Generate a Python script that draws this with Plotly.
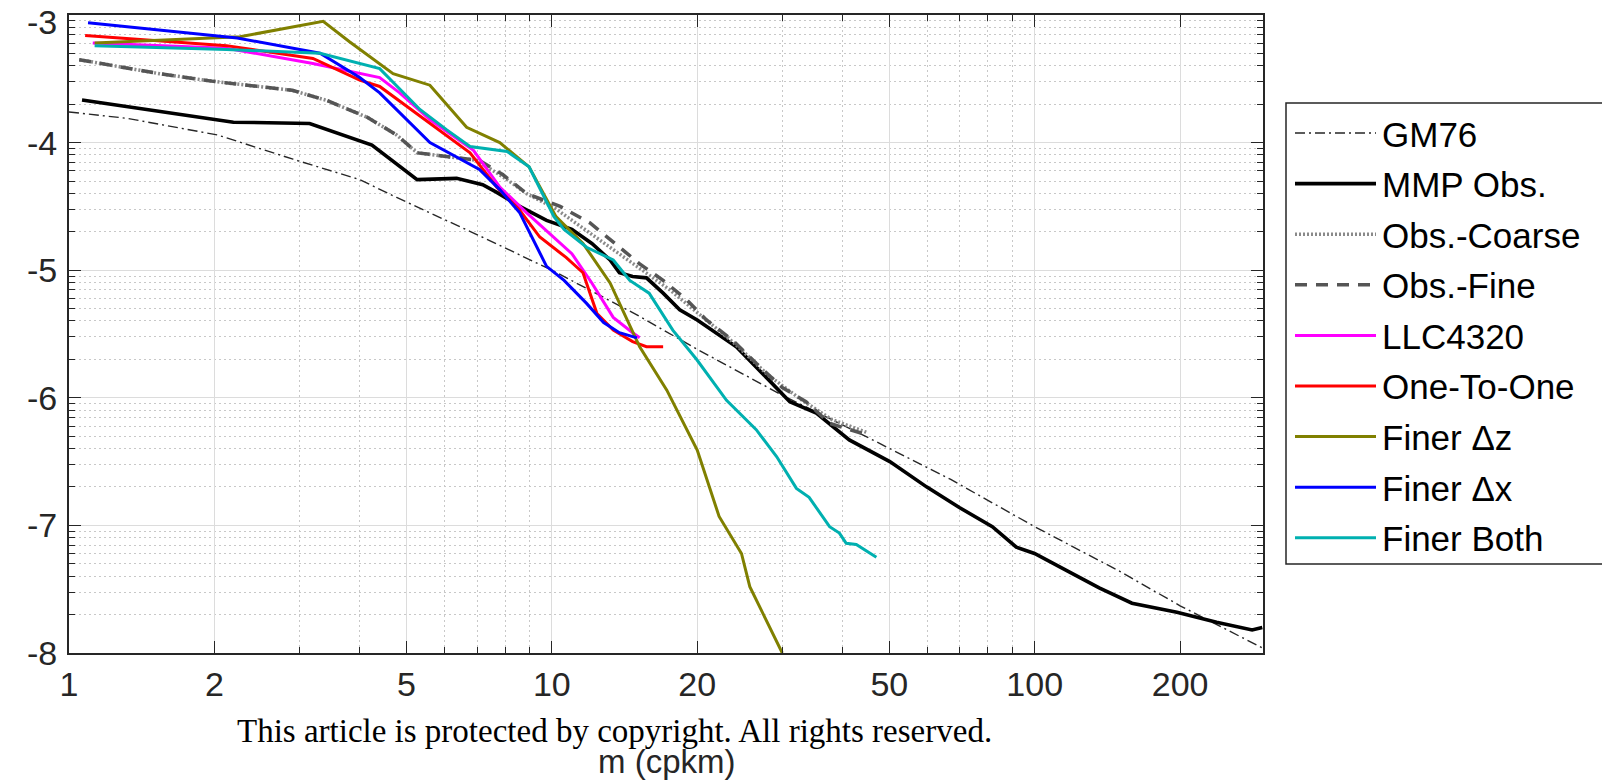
import numpy as np
import plotly.graph_objects as go

# vertical wavenumber m (cpkm) and log10 of the spectral level for each curve
gm76_m = [1, 1.32, 2.03, 2.91, 4.0, 4.77, 7.08, 10, 15, 20, 30, 44, 67, 100, 150, 200, 296]
gm76_y = [-3.76, -3.81, -3.94, -4.13, -4.29, -4.43, -4.73, -5.0, -5.35, -5.62, -5.98, -6.29,
          -6.64, -7.01, -7.36, -7.63, -7.96]

mmp_m = [1.064, 2.19, 3.15, 4.24, 5.26, 6.35, 7.19, 7.69, 8.58, 9.75, 11.0, 12.1, 13.2, 13.8,
         14.7, 15.7, 17.0, 18.4, 20.0, 24.1, 27.8, 31.1, 35.3, 41.3, 50.1, 59.8, 69.8, 81.7,
         91.6, 99.9, 116, 136, 159, 197, 238, 282, 296]
mmp_y = [-3.666, -3.84, -3.85, -4.02, -4.29, -4.28, -4.33, -4.39, -4.50, -4.61, -4.68, -4.79,
         -4.92, -5.02, -5.05, -5.06, -5.18, -5.31, -5.39, -5.60, -5.84, -6.03, -6.12, -6.33,
         -6.50, -6.70, -6.86, -7.01, -7.17, -7.22, -7.35, -7.49, -7.61, -7.68, -7.76, -7.82, -7.80]

coarse_m = [1.05, 1.54, 1.99, 2.9, 3.42, 4.14, 4.77, 5.26, 7.0, 8.08, 8.87, 10.2, 11.3, 13.0,
            15.0, 17.5, 20.0, 24.0, 28.0, 33.0, 38.0, 44.8]
coarse_y = [-3.35, -3.46, -3.52, -3.59, -3.67, -3.80, -3.94, -4.08, -4.14, -4.29, -4.40, -4.52,
            -4.64, -4.80, -4.97, -5.15, -5.33, -5.58, -5.82, -6.02, -6.17, -6.27]

fine_m = [1.05, 1.54, 1.99, 2.9, 3.42, 4.14, 4.77, 5.26, 7.08, 7.91, 8.87, 10.4, 12.0, 13.4,
          15.2, 17.0, 19.0, 20.9, 23.7, 26.5, 30.0, 33.6, 37.6, 44.0]
fine_y = [-3.35, -3.46, -3.52, -3.59, -3.67, -3.80, -3.94, -4.08, -4.14, -4.25, -4.40, -4.50,
          -4.63, -4.78, -4.95, -5.08, -5.23, -5.39, -5.55, -5.73, -5.92, -6.03, -6.20, -6.28]

llc_m = [1.12, 2.12, 3.2, 4.4, 4.84, 5.59, 6.88, 7.81, 8.87, 10.1, 11.0, 12.1, 13.4, 14.7, 15.2]
llc_y = [-3.22, -3.26, -3.38, -3.49, -3.61, -3.82, -4.06, -4.35, -4.55, -4.74, -4.87, -5.10,
         -5.37, -5.49, -5.53]

one_m = [1.08, 1.54, 2.12, 3.2, 4.0, 4.4, 5.59, 6.77, 7.69, 8.58, 9.44, 10.7, 11.6, 12.4, 13.4,
         14.7, 15.7, 17.0]
one_y = [-3.16, -3.20, -3.24, -3.34, -3.51, -3.56, -3.85, -4.08, -4.35, -4.53, -4.74, -4.90,
         -5.02, -5.34, -5.47, -5.56, -5.60, -5.60]

dz_m = [1.13, 2.26, 3.36, 3.81, 4.69, 5.59, 6.66, 7.8, 8.97, 10.2, 11.6, 13.2, 15.2, 17.3,
        20.0, 22.2, 24.7, 25.7, 30.0]
dz_y = [-3.22, -3.17, -3.05, -3.21, -3.46, -3.55, -3.88, -4.0, -4.19, -4.58, -4.79, -5.10,
        -5.60, -5.94, -6.41, -6.93, -7.22, -7.48, -8.0]

dx_m = [1.095, 1.54, 2.23, 3.31, 4.0, 4.4, 5.59, 7.08, 7.81, 8.58, 9.1, 9.75, 10.6, 11.8, 12.8,
        13.8, 15.0]
dx_y = [-3.06, -3.12, -3.18, -3.30, -3.49, -3.61, -4.0, -4.21, -4.37, -4.55, -4.74, -4.97,
        -5.08, -5.26, -5.41, -5.49, -5.53]

both_m = [1.13, 2.12, 3.31, 4.4, 5.33, 6.06, 6.77, 7.69, 8.08, 8.97, 10.1, 10.6, 11.8, 13.4,
          14.5, 15.9, 17.8, 19.95, 23.0, 26.5, 29.2, 32.1, 34.1, 37.6, 39.4, 40.7, 42.7, 47.0]
both_y = [-3.24, -3.27, -3.30, -3.42, -3.74, -3.90, -4.03, -4.06, -4.07, -4.19, -4.58, -4.68,
          -4.82, -4.92, -5.08, -5.18, -5.47, -5.70, -6.02, -6.25, -6.46, -6.71, -6.78, -7.01,
          -7.06, -7.14, -7.15, -7.25]

x_ticks = [1, 2, 5, 10, 20, 50, 100, 200]
x_minor = [3, 4, 6, 7, 8, 9, 30, 40, 60, 70, 80, 90]
y_ticks = [-8, -7, -6, -5, -4, -3]

INK = "#262626"
FONT = "Liberation Sans, Arial, sans-serif"

series = [
    ("GM76", gm76_m, gm76_y, INK, 1.4, "10px,4px,2px,4px"),
    ("MMP Obs.", mmp_m, mmp_y, "#000000", 3.6, "solid"),
    ("Obs.-Coarse", coarse_m, coarse_y, "#8a8a8a", 3.5, "2px,2px"),
    ("Obs.-Fine", fine_m, fine_y, "#555555", 3.5, "12px,9px"),
    ("LLC4320", llc_m, llc_y, "#ff00ff", 3, "solid"),
    ("One-To-One", one_m, one_y, "#ff0000", 3, "solid"),
    ("Finer \u0394z", dz_m, dz_y, "#808000", 3, "solid"),
    ("Finer \u0394x", dx_m, dx_y, "#0000ff", 3, "solid"),
    ("Finer Both", both_m, both_y, "#00b0b0", 3, "solid"),
]

fig = go.Figure()

for name, m, y, color, width, dash in series:
    fig.add_trace(
        go.Scatter(
            x=m,
            y=10.0 ** np.array(y),
            mode="lines",
            name=name,
            line=dict(color=color, width=width, dash=dash),
            showlegend=False
        )
    )

# plot box in pixels
L, R, T, B = 69, 1263, 15, 653
W, H = R - L, B - T


def px(x):
    return (x - L) / W


def py(y):
    return (B - y) / H


# hand-drawn legend box (MATLAB style, long line samples)
shapes = [
    dict(type="rect", xref="paper", yref="paper",
         x0=px(1286), x1=px(1640), y0=py(564), y1=py(103),
         line=dict(color=INK, width=1.5), fillcolor="white", layer="above")
]
annotations = []
for i, (name, m, y, color, width, dash) in enumerate(series):
    yc = 133 + 50.6 * i
    shapes.append(
        dict(type="line", xref="paper", yref="paper",
             x0=px(1295), x1=px(1376), y0=py(yc), y1=py(yc),
             line=dict(color=color, width=max(width, 1.4), dash=dash), layer="above")
    )
    annotations.append(
        dict(text=name, xref="paper", yref="paper", x=px(1380), y=py(yc + 1),
             xanchor="left", yanchor="middle", showarrow=False,
             font=dict(size=35, color="#000000", family=FONT))
    )

# y tick labels placed on the y axis itself, so "-3" at the very top is not dropped
for v in y_ticks:
    annotations.append(
        dict(text=str(v), xref="paper", yref="y", x=0, y=v,
             xanchor="right", yanchor="middle", xshift=-10,
             yshift=-7 if v == y_ticks[-1] else 0, showarrow=False,
             font=dict(size=34, color=INK, family=FONT))
    )

annotations.append(
    dict(text="m (cpkm)", xref="paper", yref="paper", x=px(666), y=py(741),
         xanchor="center", yanchor="top", showarrow=False,
         font=dict(size=33, color=INK, family=FONT))
)
annotations.append(
    dict(text="This article is protected by copyright. All rights reserved.",
         xref="paper", yref="paper", x=px(614), y=py(731),
         xanchor="center", yanchor="middle", showarrow=False,
         font=dict(size=33, color="#000000", family="Liberation Serif, DejaVu Serif, serif"))
)

fig.update_layout(
    width=1602,
    height=780,
    margin=dict(l=L, r=1602 - R, t=T, b=780 - B),
    paper_bgcolor="white",
    plot_bgcolor="white",
    font=dict(family=FONT, color=INK, size=33),
    shapes=shapes,
    annotations=annotations,
    showlegend=False
)

fig.update_xaxes(
    type="log",
    range=[0, np.log10(297)],
    tickmode="array",
    tickvals=x_ticks,
    ticktext=[str(v) for v in x_ticks],
    ticks="inside",
    ticklen=12,
    tickwidth=1.3,
    tickcolor=INK,
    tickfont=dict(size=34, color=INK, family=FONT),
    showline=True,
    linecolor=INK,
    linewidth=1.6,
    mirror="ticks",
    showgrid=True,
    gridcolor="#dcdcdc",
    gridwidth=1,
    zeroline=False,
    minor=dict(
        tickmode="array",
        tickvals=x_minor,
        ticks="inside",
        ticklen=6,
        tickwidth=1.1,
        tickcolor=INK,
        showgrid=True,
        gridcolor="#c8c8c8",
        griddash="2px,3px",
        gridwidth=1
    )
)

y_minor = [k * 10.0 ** e for e in range(-8, -3) for k in range(2, 10)]

fig.update_yaxes(
    type="log",
    range=[-8.0001, -2.9999],
    tickmode="array",
    tickvals=[10.0 ** v for v in y_ticks],
    showticklabels=False,
    ticks="inside",
    ticklen=12,
    tickwidth=1.3,
    tickcolor=INK,
    showline=True,
    linecolor=INK,
    linewidth=1.6,
    mirror="ticks",
    showgrid=True,
    gridcolor="#dcdcdc",
    gridwidth=1,
    zeroline=False,
    minor=dict(
        tickmode="array",
        tickvals=y_minor,
        ticks="inside",
        ticklen=6,
        tickwidth=1.1,
        tickcolor=INK,
        showgrid=True,
        gridcolor="#c8c8c8",
        griddash="2px,3px",
        gridwidth=1
    )
)

fig.write_html(
    "out.html",
    config={"displayModeBar": False},
    post_script="document.body.style.margin='0';"
)
